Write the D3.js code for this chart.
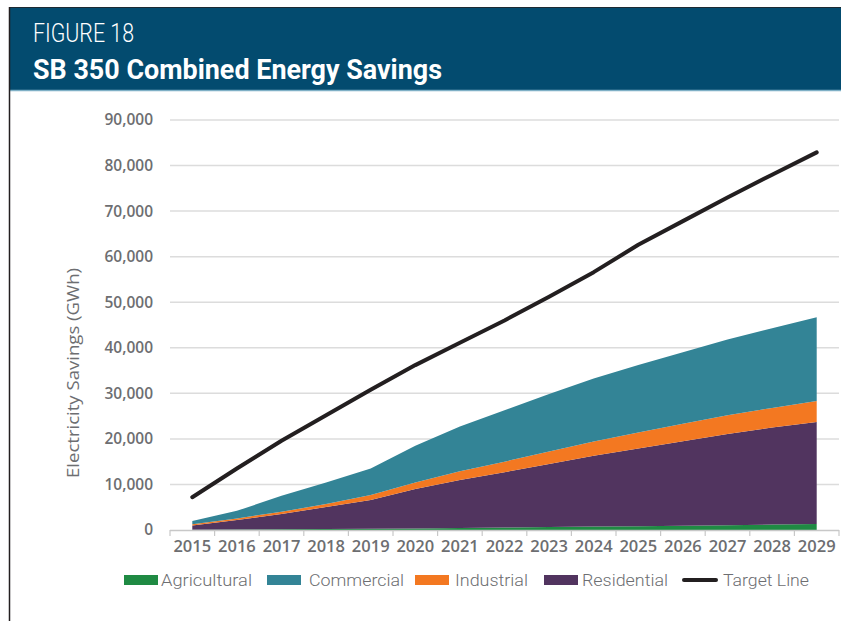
<!DOCTYPE html>
<html>
<head>
<meta charset="utf-8">
<script src="https://cdn.jsdelivr.net/npm/d3@7"></script>
<style>
  body { margin: 0; background: #fff; }
  svg { display: block; }
</style>
</head>
<body>
<script>
// values (GWh)
const years = [2015, 2016, 2017, 2018, 2019, 2020, 2021, 2022, 2023, 2024, 2025, 2026, 2027, 2028, 2029]
const agricultural = [50, 100, 150, 200, 250, 350, 450, 550, 650, 750, 850, 950, 1050, 1200, 1300]
const residential = [950, 2100, 3350, 4850, 6350, 8650, 10550, 12150, 13850, 15550, 17050, 18550, 20050, 21300, 22400]
const industrial = [250, 350, 500, 650, 1100, 1400, 1900, 2300, 2750, 3150, 3500, 3800, 4100, 4300, 4600]
const commercial = [750, 1650, 3500, 4700, 5800, 8100, 9800, 11300, 12600, 13800, 14800, 15700, 16600, 17500, 18400]
const target = [7200, 13500, 19600, 25200, 30800, 36200, 41100, 46000, 51200, 56600, 62600, 67800, 73000, 78000, 82900]
const yTicks = [0, 10000, 20000, 30000, 40000, 50000, 60000, 70000, 80000, 90000]

const w = 841
const h = 621

const colors = {
    Agricultural: "#1f8a43",
    Commercial: "#338496",
    Industrial: "#f37821",
    Residential: "#51345f"
}

const rows = years.map((y, i) => {
    return {
        year: y,
        Agricultural: agricultural[i],
        Residential: residential[i],
        Industrial: industrial[i],
        Commercial: commercial[i],
        target: target[i]
    }
})

const svg = d3.select("body")
              .append("svg")
              .attr("width", w)
              .attr("height", h)

// header band
svg.append("rect")
   .attr("x", 10).attr("y", 7)
   .attr("width", w - 10).attr("height", 83)
   .attr("fill", "#034b6f")
svg.append("line")
   .attr("x1", 10).attr("x2", w)
   .attr("y1", 7.5).attr("y2", 7.5)
   .attr("stroke", "#1d2a33").attr("stroke-width", 1)
svg.append("line")
   .attr("x1", 10).attr("x2", w)
   .attr("y1", 90.5).attr("y2", 90.5)
   .attr("stroke", "#7fb0c6").attr("stroke-width", 1.5)
svg.append("line")
   .attr("x1", 9.5).attr("x2", 9.5)
   .attr("y1", 7).attr("y2", h)
   .attr("stroke", "#231f20").attr("stroke-width", 1.5)

svg.append("text")
   .attr("x", 33).attr("y", 42)
   .attr("fill", "#fff")
   .style("font-family", "'Liberation Sans Narrow', 'Roboto', sans-serif")
   .style("font-weight", 300)
   .style("font-size", "25px")
   .attr("textLength", 101)
   .attr("lengthAdjust", "spacingAndGlyphs")
   .text("FIGURE 18")

svg.append("text")
   .attr("x", 33).attr("y", 79)
   .attr("fill", "#fff")
   .style("font-family", "'Liberation Sans Narrow', 'Roboto', sans-serif")
   .style("font-weight", 700)
   .style("font-size", "28px")
   .attr("textLength", 409)
   .attr("lengthAdjust", "spacingAndGlyphs")
   .text("SB 350 Combined Energy Savings")

// scales
const xBand = d3.scaleBand()
                .domain(years)
                .range([170, 839])
                .padding(0)
const xMid = (d) => xBand(d) + xBand.bandwidth() / 2
const yScale = d3.scaleLinear()
                 .domain([0, 90000])
                 .range([530, 120])

// grid
svg.append("g")
   .selectAll("line")
   .data(yTicks.slice(1))
   .enter()
   .append("line")
   .attr("x1", 170).attr("x2", 839)
   .attr("y1", (d) => yScale(d)).attr("y2", (d) => yScale(d))
   .attr("stroke", "#dcdcdc").attr("stroke-width", 1.5)

// stacked areas
const keys = ["Agricultural", "Residential", "Industrial", "Commercial"]
const stacked = d3.stack().keys(keys)(rows)
const area = d3.area()
               .x((d) => xMid(d.data.year))
               .y0((d) => yScale(d[0]))
               .y1((d) => yScale(d[1]))

svg.append("g")
   .selectAll("path")
   .data(stacked)
   .enter()
   .append("path")
   .attr("d", area)
   .attr("fill", (d) => colors[d.key])

// target line
const line = d3.line()
               .x((d) => xMid(d.year))
               .y((d) => yScale(d.target))
svg.append("path")
   .datum(rows)
   .attr("d", line)
   .attr("fill", "none")
   .attr("stroke", "#231f20")
   .attr("stroke-width", 4)
   .attr("stroke-linecap", "round")
   .attr("stroke-linejoin", "round")

// x axis
const xAxis = d3.axisBottom(xBand).tickSize(0).tickPadding(10)
const gx = svg.append("g")
              .attr("transform", "translate(0, 530)")
              .call(xAxis)
gx.select(".domain").remove()
gx.selectAll("text")
  .style("font-family", "'Open Sans', sans-serif")
  .style("font-weight", 600)
  .style("font-size", "16.5px")
  .attr("fill", "#6d6e71")

svg.append("line")
   .attr("x1", 170).attr("x2", 839)
   .attr("y1", 530.5).attr("y2", 530.5)
   .attr("stroke", "#c8c8c8").attr("stroke-width", 1.5)
svg.append("g")
   .selectAll("line")
   .data(years.concat(["end"]))
   .enter()
   .append("line")
   .attr("x1", (d) => d === "end" ? xBand.range()[1] : xBand(d))
   .attr("x2", (d) => d === "end" ? xBand.range()[1] : xBand(d))
   .attr("y1", 530).attr("y2", 536)
   .attr("stroke", "#c8c8c8").attr("stroke-width", 1.2)

// y axis
const yAxis = d3.axisLeft(yScale)
                .tickValues(yTicks)
                .tickFormat(d3.format(","))
                .tickSize(0)
                .tickPadding(0)
const gy = svg.append("g")
              .attr("transform", "translate(153, 0)")
              .call(yAxis)
gy.select(".domain").remove()
gy.selectAll("text")
  .style("font-family", "'Open Sans', sans-serif")
  .style("font-weight", 600)
  .style("font-size", "15.5px")
  .attr("fill", "#6d6e71")

svg.append("text")
   .attr("transform", "translate(79, 373) rotate(-90)")
   .attr("text-anchor", "middle")
   .attr("fill", "#6d6e71")
   .style("font-family", "'Open Sans', sans-serif")
   .style("font-size", "16.5px")
   .attr("textLength", 210)
   .attr("lengthAdjust", "spacingAndGlyphs")
   .text("Electricity Savings (GWh)")

// legend
const legendItems = [
    { name: "Agricultural", x: 124, tx: 161, tw: 91 },
    { name: "Commercial", x: 267, tx: 309, tw: 95 },
    { name: "Industrial", x: 415, tx: 455, tw: 73 },
    { name: "Residential", x: 544, tx: 582, tw: 86 },
    { name: "Target Line", x: 682, tx: 723, tw: 86 }
]
const legend = svg.append("g")
legend.selectAll("rect")
      .data(legendItems.filter((d) => d.name !== "Target Line"))
      .enter()
      .append("rect")
      .attr("x", (d) => d.x).attr("y", 575)
      .attr("width", 34).attr("height", 10)
      .attr("fill", (d) => colors[d.name])
legend.append("line")
      .attr("x1", 684).attr("x2", 716)
      .attr("y1", 580).attr("y2", 580)
      .attr("stroke", "#231f20").attr("stroke-width", 4)
      .attr("stroke-linecap", "round")
legend.selectAll("text")
      .data(legendItems)
      .enter()
      .append("text")
      .attr("x", (d) => d.tx).attr("y", 586)
      .attr("textLength", (d) => d.tw)
      .attr("lengthAdjust", "spacingAndGlyphs")
      .attr("fill", "#6d6e71")
      .style("font-family", "'Roboto', sans-serif")
      .style("font-weight", 300)
      .style("font-size", "17px")
      .text((d) => d.name)
</script>
</body>
</html>
